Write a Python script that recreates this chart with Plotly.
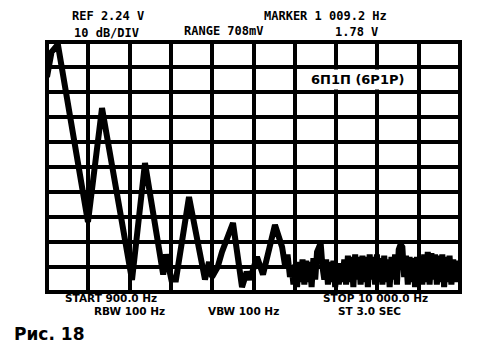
import plotly.graph_objects as go

# --- data (frequency in Hz, level in dB re REF) ---
main_freq = [900, 1000, 1140, 1803, 2112, 2773, 3059, 3390, 3460, 3522, 3640, 3742,
             4029, 4381, 4470, 4536, 4660, 4756, 4998, 5197, 5300, 5373, 5527, 5659,
             5923, 6080, 6150, 6200, 6254]
main_db = [-14, -4, -1, -72, -26.4, -95.2, -48.4, -88, -93, -85, -95, -95,
           -62, -95, -88, -94, -90, -84, -72.4, -98, -92, -95, -86, -93,
           -73.2, -82, -90, -85, -94]

noise_freq = [6290, 6330, 6370, 6410, 6450, 6490, 6530, 6570, 6610, 6650, 6690, 6730,
              6770, 6810, 6850, 6890, 6930, 6970, 7010, 7050, 7090, 7130, 7170, 7210,
              7250, 7290, 7330, 7370, 7410, 7450, 7490, 7530, 7570, 7610, 7650, 7690,
              7730, 7770, 7810, 7850, 7890, 7930, 7970, 8010, 8050, 8090, 8130, 8170,
              8210, 8250, 8290, 8330, 8370, 8410, 8450, 8490, 8530, 8570, 8610, 8650,
              8690, 8730, 8770, 8810, 8850, 8890, 8930, 8970, 9010, 9050, 9090, 9130,
              9170, 9210, 9250, 9290, 9330, 9370, 9410, 9450, 9490, 9530, 9570, 9610,
              9650, 9690, 9730, 9770, 9810, 9850, 9890, 9930, 9970]
noise_db = [-90, -97, -89, -98, -88, -96, -87, -97, -87.5, -96, -88, -98,
            -86.5, -95, -84, -81, -80.5, -90, -95, -87, -97, -88, -96, -87.5,
            -98, -89, -97, -88.5, -96, -87, -97, -85.5, -96, -86, -98, -85,
            -95, -86, -97, -85.5, -96, -86, -98, -85, -95, -86, -97, -85,
            -96, -86.5, -97, -85.5, -96, -87, -98, -86, -95, -85, -97, -83,
            -81, -82, -94, -85.5, -97, -86, -96, -86.5, -98, -86, -95, -87,
            -97, -85, -96, -84, -97, -84.5, -95, -85, -97, -85.5, -96, -85,
            -98, -86, -96, -85.5, -97, -87, -96, -87.5, -95]

freq = main_freq + noise_freq
level = main_db + noise_db

F_START, F_STOP = 900, 10000
DB_TOP, DB_BOTTOM = 0, -100

# --- figure ---
W, H = 492, 359
L, R, T, B = 47, 32, 42, 67
PW, PH = W - L - R, H - T - B


def px(x):
    return (x - L) / PW


def py(y):
    return (H - B - y) / PH


fig = go.Figure()
fig.add_trace(go.Scatter(x=freq, y=level, mode="lines",
                         line=dict(color="black", width=6),
                         hoverinfo="skip", showlegend=False))

axis_common = dict(showgrid=True, gridcolor="black", gridwidth=4,
                   showticklabels=False, ticks="", zeroline=False,
                   showline=False, fixedrange=True)
fig.update_xaxes(range=[F_START, F_STOP], tick0=F_START,
                 dtick=(F_STOP - F_START) / 10, **axis_common)
fig.update_yaxes(range=[DB_BOTTOM, DB_TOP], tick0=DB_BOTTOM, dtick=10, **axis_common)

# thick frame
fig.add_shape(type="rect", xref="paper", yref="paper", x0=0, x1=1, y0=0, y1=1,
              line=dict(color="black", width=4), layer="above")

mono = dict(family="DejaVu Sans Mono", size=12, color="black", weight="bold")
bottom_font = dict(family="DejaVu Sans", size=10.5, color="black", weight="bold")
top_texts = [
    ("REF 2.24 V", 70, 16),
    ("10 dB/DIV", 72, 33),
    ("RANGE 708mV", 182, 31),
    ("MARKER 1 009.2 Hz", 262, 16),
    ("1.78 V", 333, 32),
]
bottom_texts = [
    ("START 900.0 Hz", 64, 298),
    ("RBW 100 Hz", 93, 310.5),
    ("VBW 100 Hz", 207, 310.5),
    ("STOP 10 000.0 Hz", 322, 298),
    ("ST 3.0 SEC", 337, 310.5),
]
for t, x, y in top_texts:
    fig.add_annotation(text=t, x=px(x), y=py(y), xref="paper", yref="paper",
                       xanchor="left", yanchor="middle", showarrow=False,
                       font=mono)
for t, x, y in bottom_texts:
    fig.add_annotation(text=t, x=px(x), y=py(y), xref="paper", yref="paper",
                       xanchor="left", yanchor="middle", showarrow=False,
                       borderpad=0, font=bottom_font)

fig.add_annotation(text="6П1П (6Р1Р)", x=px(308), y=py(79), xref="paper", yref="paper",
                   xanchor="left", yanchor="middle", showarrow=False,
                   bgcolor="white", borderpad=2,
                   font=dict(family="DejaVu Sans", size=13, color="black", weight="bold"))

fig.add_annotation(text="Рис. 18", x=px(12), y=py(334), xref="paper", yref="paper",
                   xanchor="left", yanchor="middle", showarrow=False,
                   font=dict(family="DejaVu Sans", size=17, color="black", weight="bold"))

fig.update_layout(width=W, height=H, margin=dict(l=L, r=R, t=T, b=B),
                  paper_bgcolor="white", plot_bgcolor="white")

fig.write_html("out.html")
